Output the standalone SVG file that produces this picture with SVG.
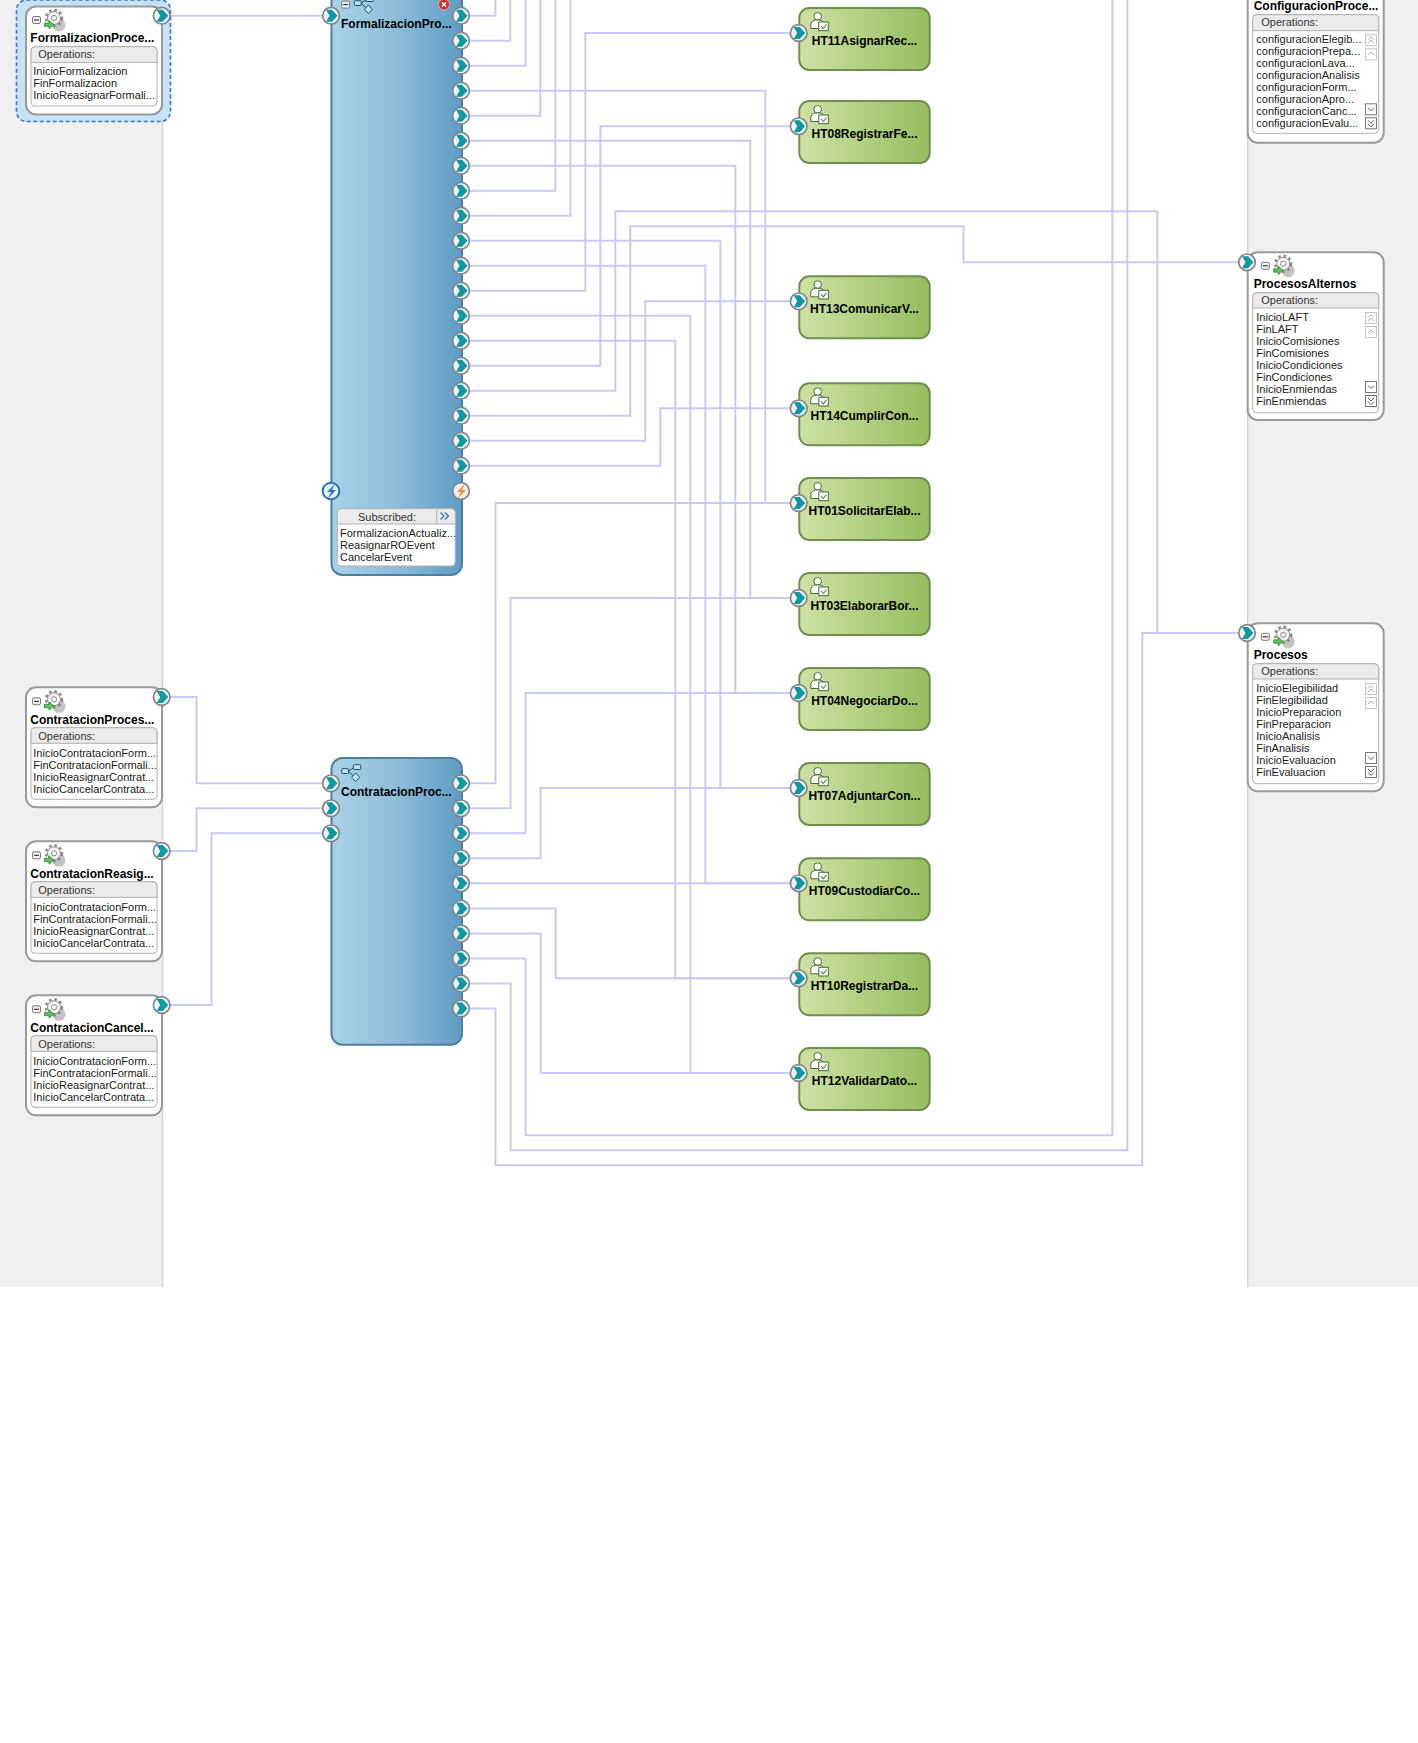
<svg xmlns="http://www.w3.org/2000/svg" xmlns:xlink="http://www.w3.org/1999/xlink" width="1418" height="1743" viewBox="0 0 1418 1743">
<style>
text{font-family:"Liberation Sans",Arial,sans-serif;font-size:11px;fill:#1a1a1a}
.t{font-weight:bold;font-size:12px;fill:#000}
.h{fill:#333}
.c{fill:none;stroke:#c9c9f5;stroke-width:2}
.svc{fill:#fff;stroke:#9a9a9a;stroke-width:2}
.body{fill:#fff;stroke:#b0b0b0;stroke-width:1}
.hdr{fill:#ebebeb;stroke:#b0b0b0;stroke-width:1}
.blk{fill:url(#blue);stroke:#4f7f9f;stroke-width:2}
.ht{fill:url(#green);stroke:#6f8f4e;stroke-width:2}
.pane{fill:#f0f0f0}
.pl{stroke:#d2d2d2;stroke-width:1.5}
.sb{fill:#fff;stroke:#c4c4c4;stroke-width:1}
.sd{fill:#fff;stroke:#777;stroke-width:1}
.ch{fill:none;stroke:#aaa;stroke-width:1}
.cd{fill:none;stroke:#555;stroke-width:1}
</style>
<defs>
<linearGradient id="blue" x1="0" x2="1" y1="0" y2="0"><stop offset="0" stop-color="#a9d2e8"/><stop offset=".5" stop-color="#8ebcda"/><stop offset="1" stop-color="#5e9cc5"/></linearGradient>
<linearGradient id="green" x1="0" x2="1" y1="0" y2="0"><stop offset="0" stop-color="#cde1a5"/><stop offset="1" stop-color="#96bd5e"/></linearGradient>
<g id="port"><circle r="8.3" fill="#eef4f5" stroke="#858585" stroke-width="1.7"/><path d="M-5-6H1L6.5 0 1 6H-5L-1.5 0Z" fill="#0f97a3"/></g>
<g id="gear"><circle cx="5" cy="7" r="6.5" fill="#c4c4c4"/><circle r="6.5" fill="#f4f4f4" stroke="#888" stroke-width="1"/><circle r="8" fill="none" stroke="#888" stroke-width="2.4" stroke-dasharray="2.6 2.8"/><circle r="2.6" fill="#fff" stroke="#888"/><path d="M-9.5 5h4.5v-2.5l5 4.2-5 4.2v-2.5h-4.5Z" fill="#5cc25c" stroke="#2b7a2b" stroke-width=".7"/></g>
<g id="minus"><rect x="-4" y="-3.5" width="8" height="7" rx="1.5" fill="#eee" stroke="#777"/><path d="M-2.5 0h5" stroke="#222"/></g>
<g id="flow"><rect x="341.7" y="768.7" width="6.8" height="4.8" rx="1" fill="#c6e2f2" stroke="#14506e"/><rect x="353.3" y="764.7" width="7.4" height="4.8" rx="1" fill="#c6e2f2" stroke="#14506e"/><path d="M355.7 773l4 4.3-4 4.3-4-4.3Z" fill="#c6e2f2" stroke="#14506e"/><path d="M348.5 771l5-3M348.5 771.5l4.5 4" stroke="#14506e" fill="none"/></g>
<g id="person"><circle cx="18.4" cy="8.3" r="3.8" fill="#fff" stroke="#4a6b36" stroke-width="1"/><path d="M11.5 20.5v-3.5q0-4.5 5-5h4q4 .5 4.5 4v4.5Z" fill="#fff" stroke="#4a6b36" stroke-width="1"/><rect x="19.5" y="14" width="9.5" height="8.7" fill="#fff" stroke="#4a6b36" stroke-width="1"/><path d="M21.8 18l2.2 2.5 3.2-4" fill="none" stroke="#3f8a3f" stroke-width="1.1"/></g>
<g id="sbs"><rect class="sb" x="-5.5" y="-5.5" width="11" height="11"/><path class="ch" d="M-3-.5L0-3.5 3-.5M-3 3L0 0 3 3"/><rect class="sb" x="-5.5" y="8.5" width="11" height="11"/><path class="ch" d="M-3 15L0 12 3 15"/><rect class="sd" x="-5.5" y="63.5" width="11" height="11"/><path class="cd" d="M-3 67.5L0 70.5 3 67.5"/><rect class="sd" x="-5.5" y="77.5" width="11" height="11"/><path class="cd" d="M-3 80L0 83 3 80M-3 83.5L0 86.5 3 83.5"/></g>
</defs>

<rect class="pane" x="0" y="0" width="162" height="1287"/>
<rect class="pane" x="1248" y="0" width="170" height="1287"/>
<path class="pl" d="M162.5 0V1287M1247.7 0V1287"/>

<g id="connectors">
<path class="c" d="M162 15.7H331"/>
<path class="c" d="M461 15.7H495.3V0"/>
<path class="c" d="M461 40.7H510.3V0"/>
<path class="c" d="M461 65.7H525.5V0"/>
<path class="c" d="M461 90.7H765.3V503H799"/>
<path class="c" d="M461 115.7H540.3V0"/>
<path class="c" d="M461 140.7H750.3V598H799"/>
<path class="c" d="M461 165.7H735.3V693H799"/>
<path class="c" d="M461 190.7H555.3V0"/>
<path class="c" d="M461 215.7H570.3V0"/>
<path class="c" d="M461 240.7H720.3V788H799"/>
<path class="c" d="M461 265.7H705.3V883.3H799"/>
<path class="c" d="M461 290.7H585.3V33H799"/>
<path class="c" d="M461 315.7H690.3V1073H799"/>
<path class="c" d="M461 340.7H675.3V978.3H799"/>
<path class="c" d="M461 365.7H600.3V126.3H799"/>
<path class="c" d="M461 390.7H615.3V211.3H1157.3V633"/>
<path class="c" d="M461 415.7H630.3V226.3H963.5V262.3H1247"/>
<path class="c" d="M461 440.7H645.3V301.3H799"/>
<path class="c" d="M461 465.7H660.3V408.3H799"/>
<path class="c" d="M162 697H196.5V783.3H331"/>
<path class="c" d="M162 851H196.5V808.3H331"/>
<path class="c" d="M162 1005H211.5V833.3H331"/>
<path class="c" d="M461 783.3H495.5V503H799"/>
<path class="c" d="M461 808.3H510.5V598H799"/>
<path class="c" d="M461 833.3H525.5V693H799"/>
<path class="c" d="M461 858.3H540.5V788H799"/>
<path class="c" d="M461 883.3H799"/>
<path class="c" d="M461 908.5H555.7V978.3H799"/>
<path class="c" d="M461 933.5H540.7V1073H799"/>
<path class="c" d="M461 958.5H525.5V1135.3H1112.3V0"/>
<path class="c" d="M461 983.5H510.7V1150.3H1127.3V0"/>
<path class="c" d="M461 1008.5H495.5V1165.3H1142.3V633H1247"/>
</g>

<g id="FormalizacionProcess">
<rect x="16.5" y="0" width="154" height="121.5" rx="10" fill="#c5e3f5" stroke="#3f74c8" stroke-width="1.6" stroke-dasharray="4 2.5"/>
<g transform="translate(26,6.5)">
<rect class="svc" width="136" height="108" rx="10"/>
<rect class="body" x="5" y="40.2" width="126" height="59.3" rx="4"/>
<path class="hdr" d="M5 55.9V44.2q0-4 4-4H127q4 0 4 4V55.9Z"/>
<use href="#minus" x="10.5" y="13.5"/><use href="#gear" x="28" y="11.5"/>
<text class="t" x="4.3" y="35">FormalizacionProce...</text>
<text class="h" x="12.3" y="51.5">Operations:</text>
<text x="7.3" y="68">InicioFormalizacion</text>
<text x="7.3" y="80">FinFormalizacion</text>
<text x="7.3" y="92">InicioReasignarFormali...</text>
</g>
<use href="#port" x="161.7" y="15.7"/>
</g>

<g id="ContratacionProcess">
<g transform="translate(26,687.3)">
<rect class="svc" width="136" height="120" rx="10"/>
<rect class="body" x="5" y="40.4" width="126" height="71.6" rx="4"/>
<path class="hdr" d="M5 56V44.4q0-4 4-4H127q4 0 4 4V56Z"/>
<use href="#minus" x="10.5" y="14"/><use href="#gear" x="28" y="12"/>
<text class="t" x="4.3" y="37">ContratacionProces...</text>
<text class="h" x="12.3" y="53">Operations:</text>
<text x="7.3" y="70">InicioContratacionForm...</text>
<text x="7.3" y="82">FinContratacionFormali...</text>
<text x="7.3" y="94">InicioReasignarContrat...</text>
<text x="7.3" y="106">InicioCancelarContrata...</text>
</g>
<use href="#port" x="161.7" y="697"/>
</g>

<g id="ContratacionReasignar">
<g transform="translate(26,841.3)">
<rect class="svc" width="136" height="120" rx="10"/>
<rect class="body" x="5" y="40.4" width="126" height="71.6" rx="4"/>
<path class="hdr" d="M5 56V44.4q0-4 4-4H127q4 0 4 4V56Z"/>
<use href="#minus" x="10.5" y="14"/><use href="#gear" x="28" y="12"/>
<text class="t" x="4.3" y="37">ContratacionReasig...</text>
<text class="h" x="12.3" y="53">Operations:</text>
<text x="7.3" y="70">InicioContratacionForm...</text>
<text x="7.3" y="82">FinContratacionFormali...</text>
<text x="7.3" y="94">InicioReasignarContrat...</text>
<text x="7.3" y="106">InicioCancelarContrata...</text>
</g>
<use href="#port" x="161.7" y="851"/>
</g>

<g id="ContratacionCancelar">
<g transform="translate(26,995.3)">
<rect class="svc" width="136" height="120" rx="10"/>
<rect class="body" x="5" y="40.4" width="126" height="71.6" rx="4"/>
<path class="hdr" d="M5 56V44.4q0-4 4-4H127q4 0 4 4V56Z"/>
<use href="#minus" x="10.5" y="14"/><use href="#gear" x="28" y="12"/>
<text class="t" x="4.3" y="37">ContratacionCancel...</text>
<text class="h" x="12.3" y="53">Operations:</text>
<text x="7.3" y="70">InicioContratacionForm...</text>
<text x="7.3" y="82">FinContratacionFormali...</text>
<text x="7.3" y="94">InicioReasignarContrat...</text>
<text x="7.3" y="106">InicioCancelarContrata...</text>
</g>
<use href="#port" x="161.7" y="1005"/>
</g>

<g id="FormalizacionBlock">
<rect class="blk" x="331.5" y="-10" width="130.5" height="585" rx="11"/>
<use href="#minus" x="345.7" y="4.6"/>
<use href="#flow" transform="translate(12.7,-768)"/>
<circle cx="444" cy="4.5" r="5.5" fill="#c8352b" stroke="#e8a8a0"/><path d="M442 2.5l4 4M446 2.5l-4 4" stroke="#fff" stroke-width="1.4"/>
<text class="t" x="341" y="28">FormalizacionPro...</text>
<rect class="body" x="337.3" y="508.7" width="118" height="57.3" rx="4"/>
<path class="hdr" d="M337.3 524V512.7q0-4 4-4H451.3q4 0 4 4V524Z"/>
<path d="M436.7 508.7V524" stroke="#b0b0b0" fill="none"/>
<path d="M440.5 512.5l3.5 3.5-3.5 3.5M445 512.5l3.5 3.5-3.5 3.5" fill="none" stroke="#2f6fc0" stroke-width="1.2"/>
<text class="h" x="387" y="521" text-anchor="middle">Subscribed:</text>
<text x="340" y="537">FormalizacionActualiz...</text>
<text x="340" y="549">ReasignarROEvent</text>
<text x="340" y="561">CancelarEvent</text>
<use href="#port" x="331" y="15.7"/>
<use href="#port" x="461" y="15.7"/><use href="#port" x="461" y="40.7"/><use href="#port" x="461" y="65.7"/><use href="#port" x="461" y="90.7"/><use href="#port" x="461" y="115.7"/><use href="#port" x="461" y="140.7"/><use href="#port" x="461" y="165.7"/><use href="#port" x="461" y="190.7"/><use href="#port" x="461" y="215.7"/><use href="#port" x="461" y="240.7"/><use href="#port" x="461" y="265.7"/><use href="#port" x="461" y="290.7"/><use href="#port" x="461" y="315.7"/><use href="#port" x="461" y="340.7"/><use href="#port" x="461" y="365.7"/><use href="#port" x="461" y="390.7"/><use href="#port" x="461" y="415.7"/><use href="#port" x="461" y="440.7"/><use href="#port" x="461" y="465.7"/>
<circle cx="331" cy="491" r="8.3" fill="#eaf2fa" stroke="#2f6fc0" stroke-width="2"/><path d="M335 483.5l-8 8.5h4l-3.5 7 8.5-9h-4Z" fill="#2f74c8"/>
<circle cx="461" cy="491" r="8.3" fill="#eef0f0" stroke="#858585" stroke-width="1.7"/><path d="M465 483.5l-8 8.5h4l-3.5 7 8.5-9h-4Z" fill="#ee9430"/>
</g>

<g id="ContratacionBlock">
<rect class="blk" x="331.5" y="758" width="130.5" height="286.7" rx="11"/>
<use href="#flow"/>
<text class="t" x="341" y="796">ContratacionProc...</text>
<use href="#port" x="331" y="783.3"/><use href="#port" x="331" y="808.3"/><use href="#port" x="331" y="833.3"/>
<use href="#port" x="461" y="783.3"/><use href="#port" x="461" y="808.3"/><use href="#port" x="461" y="833.3"/><use href="#port" x="461" y="858.3"/><use href="#port" x="461" y="883.3"/><use href="#port" x="461" y="908.5"/><use href="#port" x="461" y="933.5"/><use href="#port" x="461" y="958.5"/><use href="#port" x="461" y="983.5"/><use href="#port" x="461" y="1008.5"/>
</g>

<g id="HT11" transform="translate(799.3,8)"><rect class="ht" width="130.4" height="62" rx="10"/><use href="#person"/><text class="t" x="65.2" y="37" text-anchor="middle">HT11AsignarRec...</text><use href="#port" x="-0.6" y="25"/></g>
<g id="HT08" transform="translate(799.3,101)"><rect class="ht" width="130.4" height="62" rx="10"/><use href="#person"/><text class="t" x="65.2" y="37" text-anchor="middle">HT08RegistrarFe...</text><use href="#port" x="-0.6" y="25.3"/></g>
<g id="HT13" transform="translate(799.3,276.3)"><rect class="ht" width="130.4" height="62" rx="10"/><use href="#person"/><text class="t" x="65.2" y="37" text-anchor="middle">HT13ComunicarV...</text><use href="#port" x="-0.6" y="25"/></g>
<g id="HT14" transform="translate(799.3,383.3)"><rect class="ht" width="130.4" height="62" rx="10"/><use href="#person"/><text class="t" x="65.2" y="37" text-anchor="middle">HT14CumplirCon...</text><use href="#port" x="-0.6" y="25"/></g>
<g id="HT01" transform="translate(799.3,478)"><rect class="ht" width="130.4" height="62" rx="10"/><use href="#person"/><text class="t" x="65.2" y="37" text-anchor="middle">HT01SolicitarElab...</text><use href="#port" x="-0.6" y="25"/></g>
<g id="HT03" transform="translate(799.3,573)"><rect class="ht" width="130.4" height="62" rx="10"/><use href="#person"/><text class="t" x="65.2" y="37" text-anchor="middle">HT03ElaborarBor...</text><use href="#port" x="-0.6" y="25"/></g>
<g id="HT04" transform="translate(799.3,668)"><rect class="ht" width="130.4" height="62" rx="10"/><use href="#person"/><text class="t" x="65.2" y="37" text-anchor="middle">HT04NegociarDo...</text><use href="#port" x="-0.6" y="25"/></g>
<g id="HT07" transform="translate(799.3,763)"><rect class="ht" width="130.4" height="62" rx="10"/><use href="#person"/><text class="t" x="65.2" y="37" text-anchor="middle">HT07AdjuntarCon...</text><use href="#port" x="-0.6" y="25"/></g>
<g id="HT09" transform="translate(799.3,858.3)"><rect class="ht" width="130.4" height="62" rx="10"/><use href="#person"/><text class="t" x="65.2" y="37" text-anchor="middle">HT09CustodiarCo...</text><use href="#port" x="-0.6" y="25"/></g>
<g id="HT10" transform="translate(799.3,953.3)"><rect class="ht" width="130.4" height="62" rx="10"/><use href="#person"/><text class="t" x="65.2" y="37" text-anchor="middle">HT10RegistrarDa...</text><use href="#port" x="-0.6" y="25"/></g>
<g id="HT12" transform="translate(799.3,1048)"><rect class="ht" width="130.4" height="62" rx="10"/><use href="#person"/><text class="t" x="65.2" y="37" text-anchor="middle">HT12ValidarDato...</text><use href="#port" x="-0.6" y="25"/></g>

<g id="ConfiguracionProcesos" transform="translate(1247.7,-25.7)">
<rect class="svc" width="136" height="168.4" rx="10"/>
<rect class="body" x="5" y="40.4" width="126" height="118.6" rx="4"/>
<path class="hdr" d="M5 56.4V44.4q0-4 4-4H127q4 0 4 4V56.4Z"/>
<text class="t" x="6" y="35.5">ConfiguracionProce...</text>
<text class="h" x="13.6" y="52">Operations:</text>
<text x="8.6" y="69">configuracionElegib...</text>
<text x="8.6" y="81">configuracionPrepa...</text>
<text x="8.6" y="93">configuracionLava...</text>
<text x="8.6" y="105">configuracionAnalisis</text>
<text x="8.6" y="117">configuracionForm...</text>
<text x="8.6" y="129">configuracionApro...</text>
<text x="8.6" y="141">configuracionCanc...</text>
<text x="8.6" y="153">configuracionEvalu...</text>
<use href="#sbs" x="123.3" y="66"/>
</g>

<g id="ProcesosAlternos" transform="translate(1247.7,252.3)">
<rect class="svc" width="136" height="167.7" rx="10"/>
<rect class="body" x="5" y="40.4" width="126" height="120" rx="4"/>
<path class="hdr" d="M5 55.7V44.4q0-4 4-4H127q4 0 4 4V55.7Z"/>
<use href="#minus" x="17.6" y="13.5"/><use href="#gear" x="35.5" y="11.5"/>
<text class="t" x="6" y="36">ProcesosAlternos</text>
<text class="h" x="13.6" y="52">Operations:</text>
<text x="8.6" y="68.7">InicioLAFT</text>
<text x="8.6" y="80.7">FinLAFT</text>
<text x="8.6" y="92.7">InicioComisiones</text>
<text x="8.6" y="104.7">FinComisiones</text>
<text x="8.6" y="116.7">InicioCondiciones</text>
<text x="8.6" y="128.7">FinCondiciones</text>
<text x="8.6" y="140.7">InicioEnmiendas</text>
<text x="8.6" y="152.7">FinEnmiendas</text>
<use href="#sbs" x="123.3" y="65.7"/>
<use href="#port" x="-0.7" y="10"/>
</g>

<g id="Procesos" transform="translate(1247.7,623.3)">
<rect class="svc" width="136" height="168" rx="10"/>
<rect class="body" x="5" y="40.4" width="126" height="120" rx="4"/>
<path class="hdr" d="M5 55.7V44.4q0-4 4-4H127q4 0 4 4V55.7Z"/>
<use href="#minus" x="17.6" y="13.5"/><use href="#gear" x="35.5" y="11.5"/>
<text class="t" x="6" y="36">Procesos</text>
<text class="h" x="13.6" y="52">Operations:</text>
<text x="8.6" y="68.7">InicioElegibilidad</text>
<text x="8.6" y="80.7">FinElegibilidad</text>
<text x="8.6" y="92.7">InicioPreparacion</text>
<text x="8.6" y="104.7">FinPreparacion</text>
<text x="8.6" y="116.7">InicioAnalisis</text>
<text x="8.6" y="128.7">FinAnalisis</text>
<text x="8.6" y="140.7">InicioEvaluacion</text>
<text x="8.6" y="152.7">FinEvaluacion</text>
<use href="#sbs" x="123.3" y="65.7"/>
<use href="#port" x="-0.7" y="9.7"/>
</g>
</svg>
